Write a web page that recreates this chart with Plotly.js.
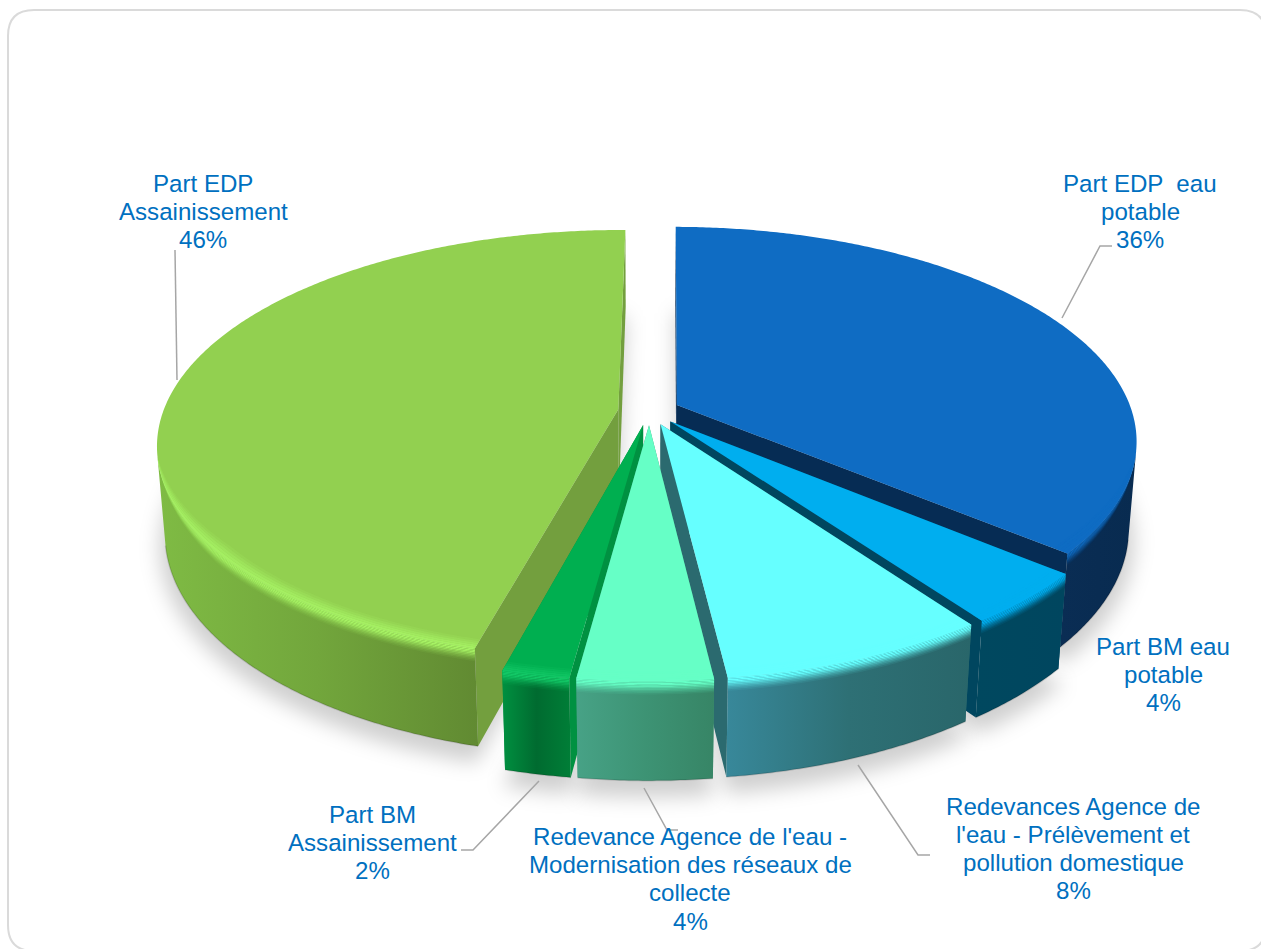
<!DOCTYPE html>
<html lang="fr">
<head>
<meta charset="utf-8">
<title>Répartition de la facture d'eau</title>
<script src="https://cdn.plot.ly/plotly-3.0.1.min.js"></script>
<style>
  html, body { margin: 0; padding: 0; background: #fff; }
  #chart { width: 1261px; height: 949px; }
</style>
</head>
<body>
<div id="chart"></div>
<script>
// Slice shares in percent, clockwise from twelve o'clock.
const shares = [36, 4, 8, 4, 2, 46];

// Label lines for each slice; the percentage is appended from shares.
const labelLines = [
  ['Part EDP  eau', 'potable'],
  ['Part BM eau', 'potable'],
  ['Redevances Agence de', "l'eau - Prélèvement et", 'pollution domestique'],
  ["Redevance Agence de l'eau -", 'Modernisation des réseaux de', 'collecte'],
  ['Part BM', 'Assainissement'],
  ['Part EDP', 'Assainissement']
];

// Top-face colours per slice.
const topColors = ['#0F6CC3', '#00AEEF', '#66FFFF', '#66FFC6', '#00AF50', '#92D050'];
// Colour of the bright rim on the bevel.
const rimColors = ['#0F6CC3', '#00AEEF', '#66FFFF', '#66FFC6', '#12C866', '#A6F264'];
// Outer wall shading, left to right.
const wallRamps = [
  ['#0A2D54', '#082B50'],
  ['#00485F', '#00465F'],
  ['#38889A', '#2E7075', '#29666A'],
  ['#47A286', '#3D9374', '#378566'],
  ['#009040', '#006B30', '#007E37'],
  ['#7FBB44', '#72A63C', '#618A32']
];
// Flat colour of the radial cut faces.
const cutColors = ['#062C54', '#00465F', '#2B6A6F', '#3D9375', '#009141', '#739F3E'];

// Painting order, back to front.
const paintOrder = [0, 5, 1, 2, 4, 3];

// Label anchor: centre x and y of the first line, plus the line pitch.
const labelAnchors = [
  [1140, 183, 28], [1163, 646, 28], [1073, 806, 28],
  [690, 836, 28.4], [372, 814, 28], [203, 183, 28]
];

// Leader polylines as [x...], [y...].
const leaders = [
  [[1062, 1100, 1112], [318, 246, 246]],
  [[858, 918, 930], [765, 855, 855]],
  [[644, 667, 678], [788, 830, 830]],
  [[539, 473, 461], [781, 850, 850]],
  [[175, 177], [250, 380]]
];

// Perspective camera for the tilted disc.
const cam = { cx: 649, cy: 411, A: 455, B: 209, D: 88, p: 0.163, q: 0.016, explode: 0.068, turn: 0.4 };

const rad = d => d * Math.PI / 180;

function project(o, r, deg, z) {
  const X = o.x + r * Math.sin(rad(deg));
  const Y = o.y - r * Math.cos(rad(deg));
  const w = 1 - cam.p * Y + cam.q * z;
  return [cam.cx + cam.A * X / w, cam.cy + (cam.B * Y + cam.D * z) / w];
}

function polygon(points, style) {
  return Object.assign({
    type: 'scatter', mode: 'lines', x: points.map(p => p[0]), y: points.map(p => p[1]),
    fill: 'toself', line: { width: 0, simplify: false }, hoverinfo: 'skip', showlegend: false
  }, style);
}

function hexA(hex, a) {
  const n = parseInt(hex.slice(1), 16);
  return `rgba(${n >> 16},${(n >> 8) & 255},${n & 255},${a})`;
}

// Sample a rim-like curve; fn maps an angle to a projected point.
function sweep(a0, a1, fn) {
  const n = Math.max(2, Math.ceil(Math.abs(a1 - a0) * 2));
  const pts = [];
  for (let i = 0; i <= n; i++) pts.push(fn(a0 + (a1 - a0) * i / n));
  return pts;
}

function arc(o, r, a0, a1, z) {
  return sweep(a0, a1, a => project(o, r, a, z));
}

// Angular span of the rim whose wall faces the viewer.
function visibleSpan(o, a0, a1) {
  const faces = a => {
    const p = project(o, 1, a, 0), t = project(o, 1, a + 0.1, 0), b = project(o, 1, a, 1);
    return (t[0] - p[0]) * (b[1] - p[1]) - (t[1] - p[1]) * (b[0] - p[0]) < 0;
  };
  let lo = null, hi = null;
  for (let a = a0; a <= a1; a += 0.5) {
    if (faces(a)) { if (lo === null) lo = a; hi = a; }
  }
  if (lo === null) return null;
  if (faces(a1 - 0.1)) hi = a1;
  return [lo, hi];
}

// Angular extents derived from the shares.
const total = shares.reduce((s, v) => s + v, 0);
const spans = [];
shares.reduce((acc, v) => {
  const a0 = acc, a1 = acc + v / total * 360;
  const mid = rad((a0 + a1) / 2);
  spans.push({
    a0: a0 + cam.turn, a1: a1 + cam.turn,
    o: { x: cam.explode * Math.sin(mid), y: -cam.explode * Math.cos(mid) }
  });
  return a1;
}, 0);

const traces = [];

// Ground shadow: blurred after the plot is drawn.
spans.forEach(s => {
  const apex = project(s.o, 0, 0, 1);
  const pts = [apex].concat(arc(s.o, 1.012, s.a0, s.a1, 1.06)).map(p => [p[0], p[1] + 7]);
  traces.push(polygon(pts, { fillcolor: 'rgba(0,0,0,0.19)' }));
});
const shadowCount = traces.length;

paintOrder.forEach(i => {
  const s = spans[i];
  const top0 = project(s.o, 0, 0, 0), bot0 = project(s.o, 0, 0, 1);
  const vis = visibleSpan(s.o, s.a0, s.a1);

  // Radial cut faces.
  [s.a0, s.a1].forEach(a => {
    traces.push(polygon([top0, project(s.o, 1, a, 0), project(s.o, 1, a, 1), bot0],
      { fillcolor: cutColors[i] }));
  });

  // Outer wall with horizontal shading over its visible width.
  if (vis) {
    const upper = arc(s.o, 1, vis[0], vis[1], 0), lower = arc(s.o, 1, vis[0], vis[1], 1).reverse();
    const ramp = wallRamps[i];
    traces.push(polygon(upper.concat(lower), {
      fillgradient: {
        type: 'horizontal',
        colorscale: ramp.map((c, k) => [k / (ramp.length - 1), c])
      }
    }));
  }

  // Top face.
  traces.push(polygon([top0].concat(arc(s.o, 1, s.a0, s.a1, 0)), { fillcolor: topColors[i] }));

  if (vis) {
    // The bevel narrows to nothing where the wall turns out of sight.
    const fade = 25;
    const taper = a => {
      const fromLo = vis[0] > s.a0 + 0.01 ? Math.min(1, (a - vis[0]) / fade) : 1;
      const fromHi = vis[1] < s.a1 - 0.01 ? Math.min(1, (vis[1] - a) / fade) : 1;
      return Math.min(fromLo, fromHi);
    };
    const band = fn => (a, b) => sweep(vis[0], vis[1], x => fn(x, a))
      .concat(sweep(vis[0], vis[1], x => fn(x, b)).reverse());

    // Wall side of the rounded edge.
    const onWall = band((a, z) => project(s.o, 1, a, z * taper(a)));
    const zAlpha = [1, 1, 0.95, 0.8, 0.62, 0.45, 0.3, 0.18, 0.08];
    zAlpha.forEach((al, k) => {
      traces.push(polygon(onWall(k * 0.0145, (k + 1) * 0.0145), { fillcolor: hexA(rimColors[i], al) }));
    });

    // Face side of the rounded edge.
    const onFace = band((a, r) => project(s.o, 1 - (1 - r) * taper(a), a, 0));
    const rAlpha = [0.15, 0.35, 0.55, 0.75, 0.9];
    rAlpha.forEach((al, k) => {
      traces.push(polygon(onFace(0.968 + k * 0.0064, 0.968 + (k + 1) * 0.0064), { fillcolor: hexA(rimColors[i], al) }));
    });

    // Dark lower edge of the wall.
    const edge = arc(s.o, 1, vis[0], vis[1], 1);
    traces.push({
      type: 'scatter', mode: 'lines', x: edge.map(p => p[0]), y: edge.map(p => p[1]),
      line: { color: 'rgba(0,0,0,0.14)', width: 1.5, simplify: false }, hoverinfo: 'skip', showlegend: false
    });
  }
});

// Leader lines.
leaders.forEach(l => traces.push({
  type: 'scatter', mode: 'lines', x: l[0], y: l[1],
  line: { color: '#A6A6A6', width: 1.5 }, hoverinfo: 'skip', showlegend: false
}));

// One annotation per text line keeps the line pitch tight.
const annotations = [];
labelLines.forEach((lines, i) => {
  const [x, y, pitch] = labelAnchors[i];
  lines.concat([shares[i] + '%']).forEach((text, k) => {
    annotations.push({
      x, y: y + k * pitch, xref: 'x', yref: 'y', text, showarrow: false,
      xanchor: 'center', yanchor: 'middle',
      font: { family: '"Liberation Sans", Arial, sans-serif', size: 24.1, color: '#0070C0' }
    });
  });
});

const layout = {
  width: 1261, height: 949,
  margin: { l: 0, r: 0, t: 0, b: 0 },
  paper_bgcolor: '#fff', plot_bgcolor: '#fff',
  showlegend: false,
  xaxis: { range: [0, 1261], visible: false, fixedrange: true },
  yaxis: { range: [949, 0], visible: false, fixedrange: true },
  annotations,
  shapes: [{
    type: 'path', layer: 'below',
    path: 'M8,36 Q8,10 34,10 L1240,10 Q1266,10 1266,36 L1266,925 Q1266,951 1240,951 L34,951 Q8,951 8,925 Z',
    line: { color: '#DADADA', width: 2 }, fillcolor: '#fff'
  }]
};

Plotly.newPlot('chart', traces, layout, { displayModeBar: false, staticPlot: true }).then(gd => {
  const groups = gd.querySelectorAll('.scatterlayer .trace');
  for (let i = 0; i < shadowCount; i++) groups[i].style.filter = 'blur(10px)';
});
</script>
</body>
</html>
